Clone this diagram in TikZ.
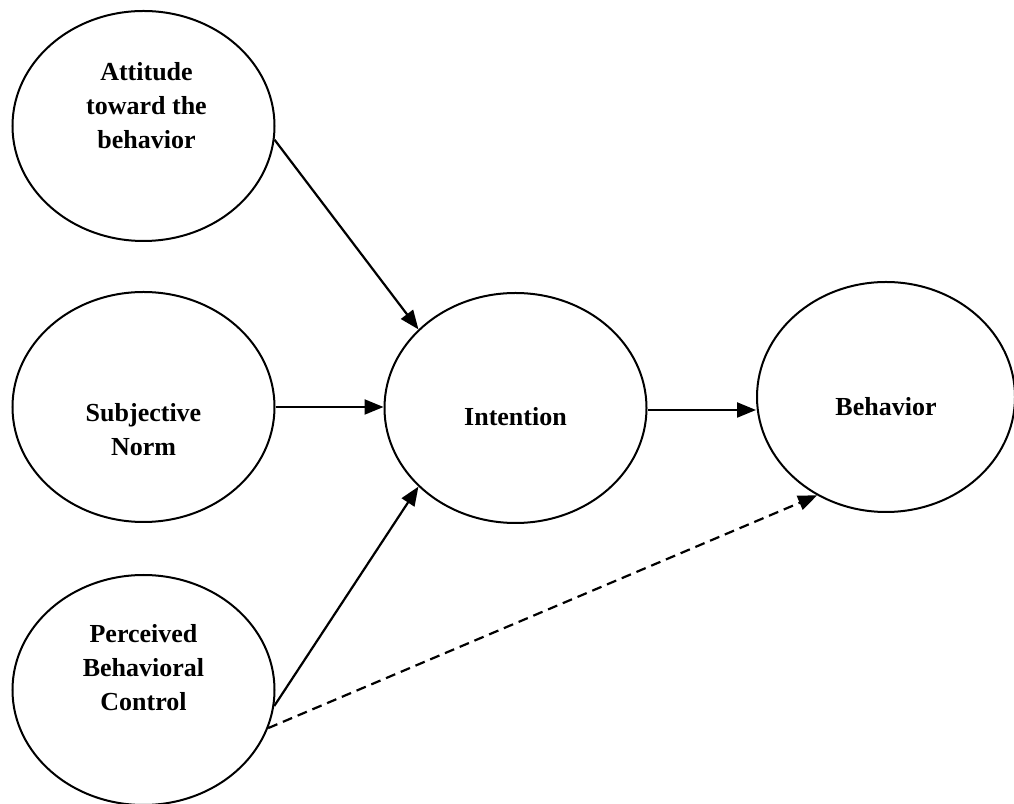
\documentclass[tikz,border=0pt]{standalone}
\usepackage{fontspec}
\setmainfont{Liberation Serif}
\usetikzlibrary{shapes.geometric,arrows.meta,calc}

\tikzset{
  x=1pt, y=1pt,
  construct/.style={draw=black, line width=2pt, ellipse, inner sep=0pt,
    minimum width=262pt, minimum height=230pt},
  lbl/.style={align=center, font=\fontsize{26}{34}\selectfont\bfseries,
    inner sep=0pt},
  path arrow/.style={draw=black, line width=2.2pt,
    -{Triangle[length=19pt,width=15pt]}},
  weak arrow/.style={path arrow, dash pattern=on 10pt off 6pt},
}

\begin{document}
\begin{tikzpicture}
  \useasboundingbox (0,0) rectangle (1014,803);

  % the five constructs
  \node[construct] (att) at (143.5,677) {};
  \node[construct] (sn)  at (143.5,396) {};
  \node[construct] (pbc) at (143.5,113) {};
  \node[construct] (int) at (515.5,395) {};
  \node[construct, minimum width=258pt] (beh) at (886,406) {};

  % their names
  \node[lbl] (attText) at ($(att)+(3,20)$) {Attitude\\toward the\\behavior};
  \node[lbl] (snText)  at ($(sn)+(0,-23)$) {Subjective\\Norm};
  \node[lbl] (pbcText) at ($(pbc)+(0,22)$) {Perceived\\Behavioral\\Control};
  \node[lbl] (intText) at ($(int)+(0,-9)$) {Intention};
  \node[lbl] (behText) at ($(beh)+(0,-10)$) {Behavior};

  % paths of influence
  \draw[path arrow] (att.-6) -- (int.141);
  \draw[path arrow] (sn.east) -- (sn.east -| int.west);
  \draw[path arrow] (pbc.-7) -- (int.219);
  \draw[path arrow] ($(int.east)+(0,-2)$) -- ($(int.east -| beh.west)+(0,-2)$);
  \draw[weak arrow] (pbc.-17) -- (beh.235);
\end{tikzpicture}
\end{document}
